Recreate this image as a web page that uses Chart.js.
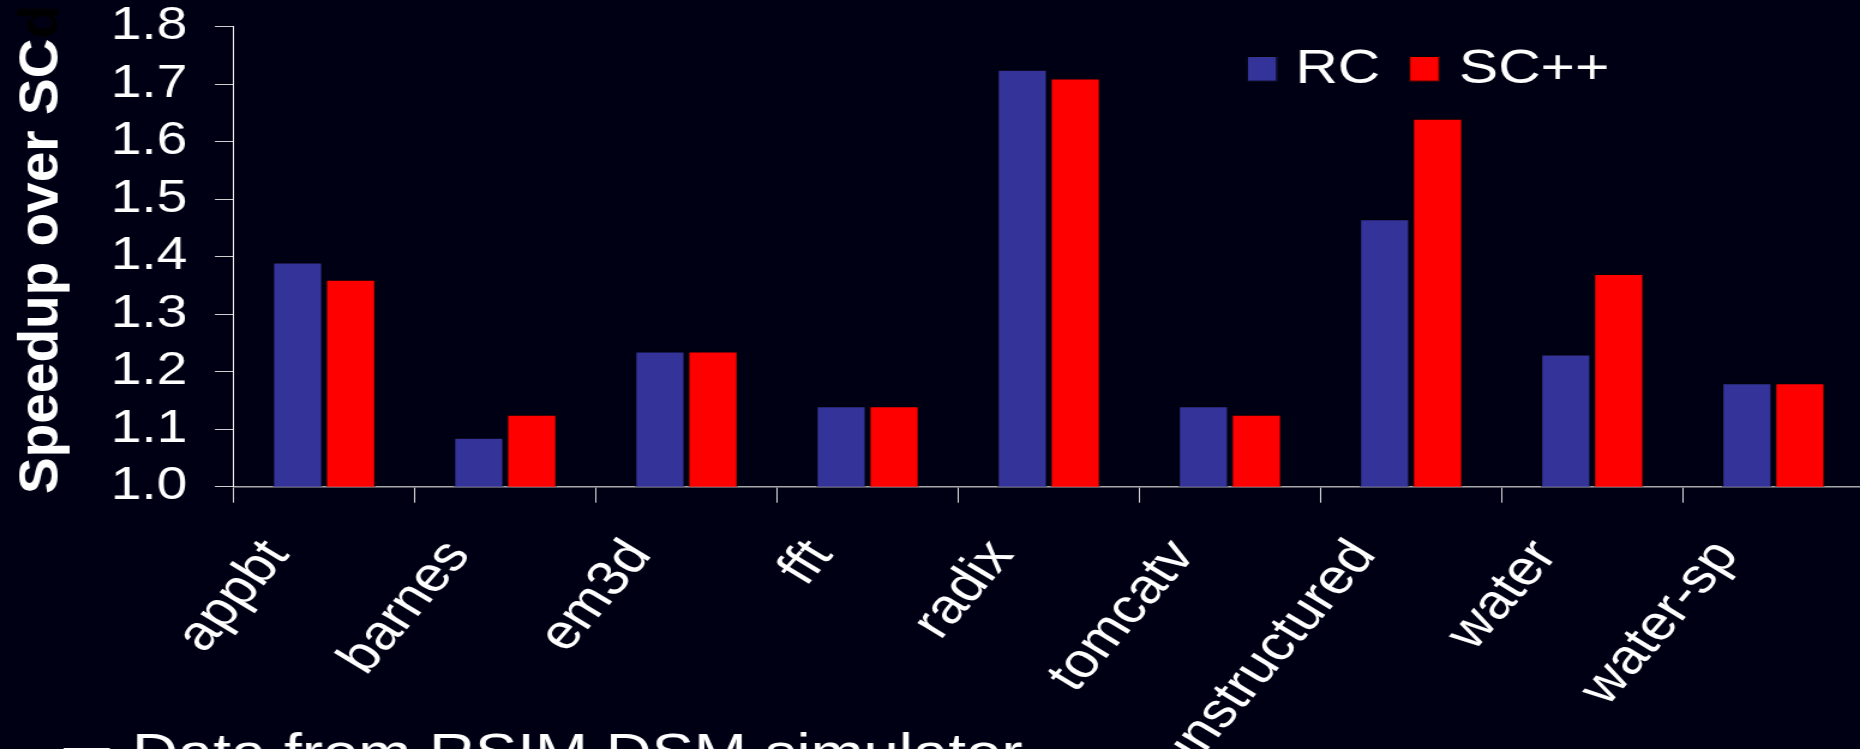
<!DOCTYPE html>
<html>
<head>
<meta charset="utf-8">
<script src="https://cdn.jsdelivr.net/npm/chart.js@4/dist/chart.umd.min.js"></script>
<style>
  html, body { margin: 0; padding: 0; width: 1860px; height: 749px; overflow: hidden; background: #000015; }
  /* the chart is laid out 1560 px wide and widened to the slide width */
  #wrap { position: absolute; left: 0; top: 0; width: 1560px; height: 749px; transform: scaleX(1.2); transform-origin: 0 0; }
  canvas { display: block; }
</style>
</head>
<body>
<div id="wrap"><canvas id="chart" width="1560" height="749"></canvas></div>
<script>
// Benchmarks and speedups over SC
const categories = ['appbt', 'barnes', 'em3d', 'fft', 'radix', 'tomcatv', 'unstructured', 'water', 'water-sp'];
const rcSpeedup   = [1.39, 1.085, 1.235, 1.14, 1.725, 1.14, 1.465, 1.23, 1.18];
const scppSpeedup = [1.36, 1.125, 1.235, 1.14, 1.71, 1.125, 1.64, 1.37, 1.18];
const seriesNames = ['RC', 'SC++'];
const seriesColors = ['#333399', '#ff0000'];
const yTickValues = [1.0, 1.1, 1.2, 1.3, 1.4, 1.5, 1.6, 1.7, 1.8];
const axisTitle = 'Speedup over SC';
const axisTitleTail = 'd';
const bulletText = 'Data from RSIM DSM simulator';

const FONT = "'Liberation Sans', Arial, Helvetica, sans-serif";
const SX = 1.2; // horizontal widening applied by the wrapper

// Legend, rotated axis title and the bullet line
const decorations = {
  id: 'decorations',
  afterDraw(chart) {
    const ctx = chart.ctx;
    ctx.save();

    // legend boxes and names
    const legendX = [1038.9, 1174.2];
    const textX = [1079.4, 1215.8];
    chart.data.datasets.forEach((ds, i) => {
      ctx.fillStyle = ds.backgroundColor;
      ctx.fillRect(legendX[i], 56, 25.5, 25.7);
      ctx.strokeStyle = '#000000';
      ctx.lineWidth = 1;
      ctx.strokeRect(legendX[i] + 0.5, 56.5, 24.5, 24.7);
      ctx.fillStyle = '#ffffff';
      ctx.font = '49px ' + FONT;
      ctx.textBaseline = 'alphabetic';
      ctx.textAlign = 'left';
      ctx.fillText(ds.label, textX[i], 83.3);
    });

    // bullet line along the bottom edge
    ctx.fillStyle = '#ffffff';
    ctx.font = "52px 'DejaVu Sans', sans-serif";
    ctx.fillText('\u2751', 50, 786);
    ctx.font = '53px ' + FONT;
    ctx.fillText(bulletText, 110, 771);
    ctx.restore();

    // vertical axis title, kept at its natural width
    ctx.save();
    ctx.scale(1 / SX, 1);
    ctx.translate(57, 494);
    ctx.rotate(-Math.PI / 2);
    ctx.font = 'bold 55px ' + FONT;
    ctx.textAlign = 'left';
    ctx.textBaseline = 'alphabetic';
    ctx.fillStyle = '#ffffff';
    ctx.fillText(axisTitle, 0, 0);
    const w = ctx.measureText(axisTitle).width;
    ctx.fillStyle = '#000000';
    ctx.fillText(axisTitleTail, w, 0);
    ctx.restore();
  }
};

new Chart(document.getElementById('chart'), {
  type: 'bar',
  data: {
    labels: categories,
    datasets: [
      { label: seriesNames[0], data: rcSpeedup, backgroundColor: seriesColors[0], borderColor: '#000000', borderWidth: 1 },
      { label: seriesNames[1], data: scppSpeedup, backgroundColor: seriesColors[1], borderColor: '#000000', borderWidth: 1 }
    ]
  },
  options: {
    responsive: false,
    animation: false,
    devicePixelRatio: 1,
    layout: { padding: { top: 26.7, right: 6.7, bottom: 0, left: 0 } },
    datasets: { bar: { categoryPercentage: 0.585, barPercentage: 0.934 } },
    plugins: { legend: { display: false }, tooltip: { enabled: false }, title: { display: false } },
    scales: {
      x: {
        grid: { display: true, offset: true, drawOnChartArea: false, drawTicks: true, tickLength: 16, color: '#dcdcdc', lineWidth: 1 },
        border: { display: true, color: '#a8a8a8', width: 1.5 },
        ticks: {
          color: '#ffffff',
          font: { family: FONT, size: 49 },
          minRotation: 54, maxRotation: 54,
          autoSkip: false,
          padding: 27,
          labelOffset: -39
        },
        afterFit(scale) { scale.height = 749 - 486.7; }
      },
      y: {
        min: 1.0, max: 1.8,
        grid: { display: true, drawOnChartArea: false, drawTicks: true, tickLength: 15.5, color: '#cfcfcf', lineWidth: 1 },
        border: { display: true, color: '#ffffff', width: 1 },
        ticks: {
          color: '#ffffff',
          font: { family: FONT, size: 46, lineHeight: 1 },
          padding: 23,
          callback: (v) => Number(v).toFixed(1)
        },
        afterBuildTicks(scale) { scale.ticks = yTickValues.map(v => ({ value: v })); },
        afterFit(scale) {
          scale.width = 194.6;
          scale.paddingTop = 20;
          scale.paddingBottom = 20;
        }
      }
    }
  },
  plugins: [decorations]
});
</script>
</body>
</html>
